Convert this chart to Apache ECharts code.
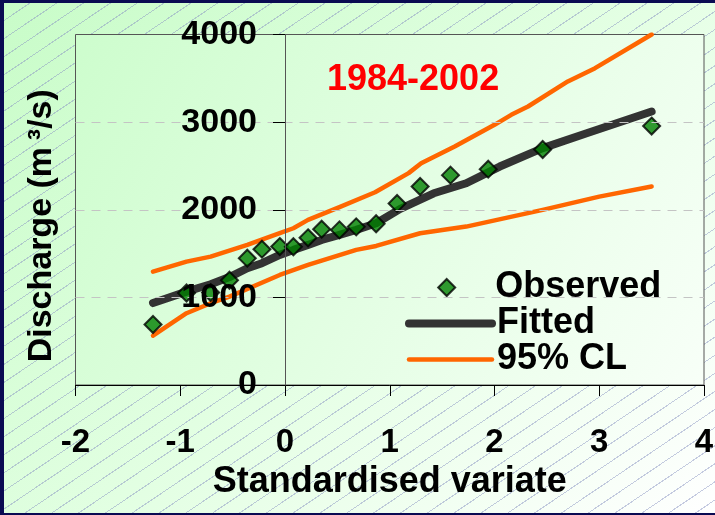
<!DOCTYPE html>
<html>
<head>
<meta charset="utf-8">
<script src="https://cdn.jsdelivr.net/npm/echarts@6/dist/echarts.min.js"></script>
<style>
html,body{margin:0;padding:0;width:715px;height:515px;overflow:hidden;background:#0a0a52;}
#frame{position:absolute;left:4px;top:3px;width:711px;height:510px;
background:
 repeating-linear-gradient(146deg, rgba(0,0,0,0) 0px, rgba(0,0,0,0) 14px, rgba(140,150,195,0.5) 14px, rgba(140,150,195,0.5) 15px),
 linear-gradient(135deg,#c8fcc8 0%,#e2ffe2 50%,#ffffff 100%);}
#chart{position:absolute;left:0;top:0;width:711px;height:510px;}
</style>
</head>
<body>
<div id="frame"><div id="chart"></div></div>
<script>
// Observed annual maxima (standardised variate, discharge m3/s)
const observedX = [-1.26,-0.94,-0.71,-0.53,-0.36,-0.22,-0.05,0.08,0.22,0.35,0.52,0.68,0.87,1.07,1.29,1.58,1.94,2.46,3.50];
const observedY = [690,1050,1055,1195,1447,1550,1580,1578,1680,1778,1770,1805,1840,2072,2265,2395,2463,2688,2955];
// Fitted curve
const fittedX = [-1.26,-0.94,-0.71,-0.53,-0.36,-0.22,-0.05,0.08,0.22,0.35,0.52,0.68,0.87,1.10,1.42,1.73,2.05,2.46,2.88,3.50];
const fittedY = [935,1066,1150,1232,1332,1390,1485,1542,1599,1656,1713,1770,1846,2010,2188,2302,2493,2703,2874,3121];
// 95% confidence limits
const upperX = [-1.26,-0.94,-0.71,-0.36,-0.05,0.08,0.22,0.52,0.86,1.18,1.30,1.62,2.00,2.16,2.32,2.70,2.96,3.50];
const upperY = [1294,1408,1465,1599,1732,1789,1884,2030,2200,2418,2530,2722,2969,3083,3178,3464,3616,4000];
const lowerX = [-1.26,-0.94,-0.71,-0.53,-0.05,0.22,0.68,0.87,1.29,1.73,2.46,3.00,3.50];
const lowerY = [563,819,933,1008,1256,1370,1542,1587,1732,1808,1998,2150,2265];
// Axis ticks
const xTicks = [-2,-1,0,1,2,3,4];
const yTicks = [0,1000,2000,3000,4000];
const gridValues = [1000,2000,3000];

const zip = (xs, ys) => xs.map((x, i) => [x, ys[i]]);
const FONT = '"Liberation Sans", Arial, sans-serif';

const chart = echarts.init(document.getElementById('chart'), null, {renderer: 'canvas'});
chart.setOption({
  backgroundColor: 'transparent',
  animation: false,
  title: {
    text: '1984-2002', left: 323, top: 59.5, padding: 0,
    textStyle: {color: '#ff0000', fontSize: 36, fontWeight: 'bold', fontFamily: FONT, lineHeight: 36}
  },
  grid: {
    left: 71.5, top: 31.5, right: 11, bottom: 128, show: true, containLabel: false, outerBoundsMode: 'none',
    borderColor: '#555', borderWidth: 1,
    backgroundColor: {type: 'linear', x: 0, y: 0, x2: 1, y2: 1,
      colorStops: [{offset: 0, color: '#cdfdcd'}, {offset: 1, color: '#f8fff8'}]}
  },
  legend: [
    {
      data: ['Observed'], orient: 'vertical', left: 433.2, top: 266.5, padding: 0,
      itemWidth: 17, itemHeight: 17,
      textStyle: {fontSize: 36, fontWeight: 'bold', fontFamily: FONT, color: '#000', lineHeight: 34, padding: [0, 0, 0, 35]}
    },
    {
      data: [
        {name: 'Fitted', lineStyle: {width: 8, cap: 'round', color: '#333333'}, itemStyle: {opacity: 0, borderWidth: 0}},
        {name: '95% CL', lineStyle: {width: 4.5, cap: 'round', color: '#ff6600'}, itemStyle: {opacity: 0, borderWidth: 0}}
      ],
      orient: 'vertical', left: 401, top: 302.5, padding: 0, itemGap: 0,
      itemWidth: 83, itemHeight: 14,
      textStyle: {fontSize: 36, fontWeight: 'bold', fontFamily: FONT, color: '#000', lineHeight: 33}
    }
  ],
  xAxis: {
    type: 'value', min: xTicks[0], max: xTicks[xTicks.length - 1], interval: 1,
    axisLine: {show: true, onZero: false, lineStyle: {color: '#000', width: 1}},
    axisTick: {show: true, length: 11, lineStyle: {color: '#000'}},
    axisLabel: {margin: 41.5, fontSize: 33, fontWeight: 'bold', fontFamily: FONT, color: '#000', lineHeight: 33,
      formatter: v => String(v)},
    splitLine: {show: false},
    name: 'Standardised variate', nameLocation: 'middle', nameGap: 76.5,
    nameTextStyle: {fontSize: 36, fontWeight: 'bold', fontFamily: FONT, color: '#000', lineHeight: 36}
  },
  yAxis: {
    type: 'value', min: yTicks[0], max: yTicks[yTicks.length - 1], interval: 1000, z: 5,
    axisLine: {show: true, onZero: true, lineStyle: {color: '#555', width: 1}},
    axisTick: {show: true, length: 12, lineStyle: {color: '#000'}},
    axisLabel: {margin: -181.5, fontSize: 34, fontWeight: 'bold', fontFamily: FONT, color: '#000',
      formatter: v => String(v)},
    splitLine: {show: false},
    name: 'Discharge (m\u2009³/s)', nameLocation: 'middle', nameGap: 16.5,
    nameTextStyle: {fontSize: 34, fontWeight: 'bold', fontFamily: FONT, color: '#000', lineHeight: 34, padding: [0, 32, 0, 0]}
  },
  series: [
    {
      name: '95% CL', type: 'line', data: zip(lowerX, lowerY), symbol: 'none', z: 2,
      lineStyle: {color: '#ff6600', width: 4.5, cap: 'round', join: 'round'}, itemStyle: {color: '#ff6600'},
      markLine: {
        silent: true, symbol: 'none', label: {show: false}, animation: false,
        lineStyle: {color: '#c4c4c4', width: 1, type: [9, 7]},
        data: gridValues.map(v => ({yAxis: v}))
      }
    },
    {
      name: '95% CL', type: 'line', data: zip(upperX, upperY), symbol: 'none', z: 2,
      lineStyle: {color: '#ff6600', width: 4.5, cap: 'round', join: 'round'}, itemStyle: {color: '#ff6600'}
    },
    {
      name: 'Fitted', type: 'line', data: zip(fittedX, fittedY), symbol: 'none', z: 3,
      lineStyle: {color: '#333333', width: 8, cap: 'round', join: 'round'}, itemStyle: {color: '#333333'}
    },
    {
      name: 'Observed', type: 'scatter', data: zip(observedX, observedY), symbol: 'diamond', symbolSize: 17, z: 4,
      itemStyle: {color: '#008000', borderColor: '#000', borderWidth: 2}
    }
  ]
});
</script>
</body>
</html>
